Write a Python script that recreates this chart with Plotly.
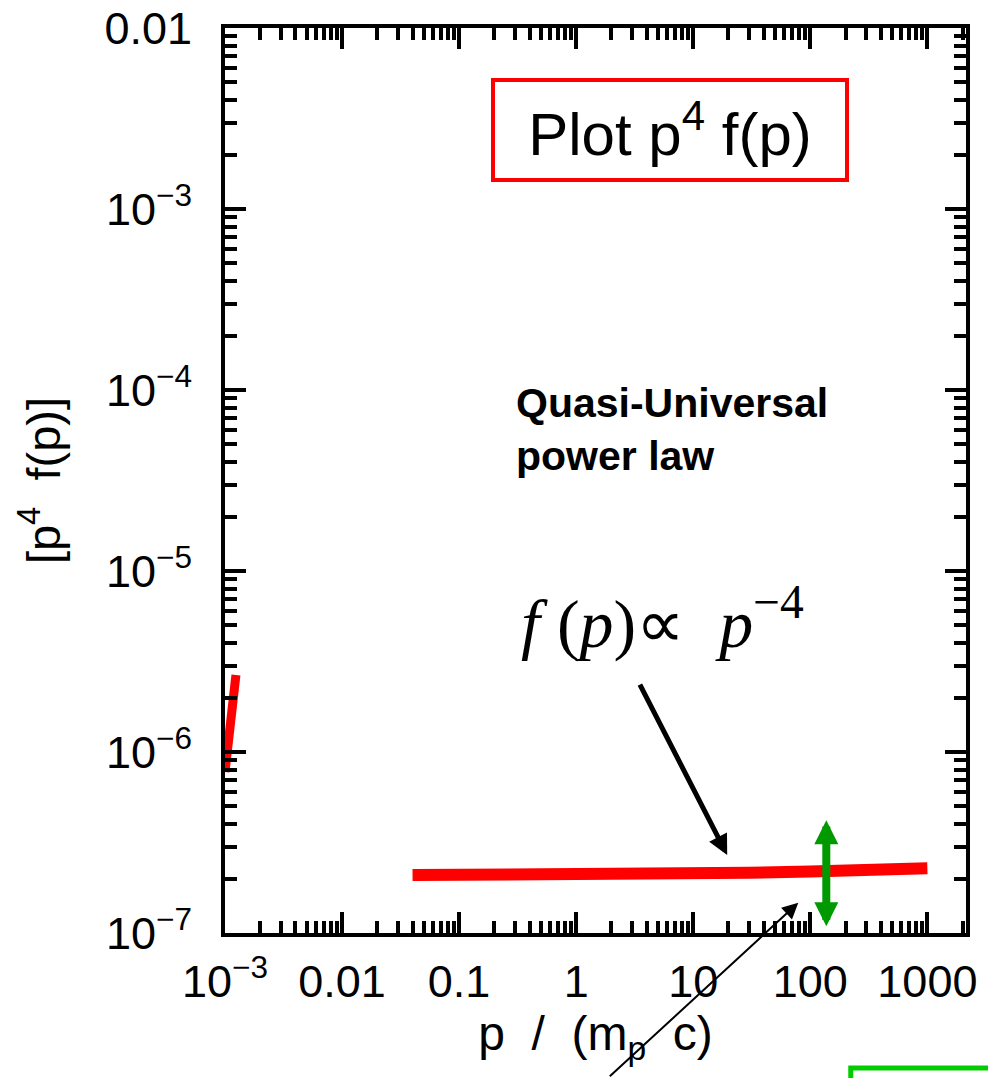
import numpy as np
import plotly.graph_objects as go

# Momentum grid (p / m_p c) and compensated spectrum p^4 f(p)
p_main = [0.04, 0.1, 0.3, 1, 3, 10, 30, 100, 300, 1000]
spec_main = [2.09e-7, 2.09e-7, 2.09e-7, 2.09e-7, 2.10e-7, 2.12e-7, 2.15e-7, 2.19e-7, 2.23e-7, 2.28e-7]

# Steep low-momentum branch at the left edge
p_low = [1.0e-3, 1.17e-3, 1.24e-3]
spec_low = [7.76e-7, 1.94e-6, 2.66e-6]

# Cut-off marker (double arrow) and pointer locations
cut_p = 137
cut_lo, cut_hi = 1.07e-7, 4.2e-7
law_tail = (3.45, 2.40e-6)     # (p, p^4 f) where the label pointer starts
law_head = (19.5, 2.70e-7)     # where it ends on the curve
thin_head = (79.0, 1.47e-7)

x_tickvals = [1e-3, 1e-2, 1e-1, 1, 10, 100, 1000]
x_ticktext = ["10<sup>\u22123</sup>", "0.01", "0.1", "1", "10", "100", "1000"]
y_tickvals = [1e-7, 1e-6, 1e-5, 1e-4, 1e-3, 1e-2]
y_ticktext = ["10<sup>\u22127</sup>", "10<sup>\u22126</sup>", "10<sup>\u22125</sup>",
              "10<sup>\u22124</sup>", "10<sup>\u22123</sup>", "0.01"]

FONT = "Liberation Sans, Arial, sans-serif"
RED = "#ff0000"
GREEN = "#009a00"

fig = go.Figure()
fig.add_trace(go.Scatter(x=p_main, y=spec_main, mode="lines",
                         line=dict(color=RED, width=12), showlegend=False,
                         hoverinfo="skip"))
fig.add_trace(go.Scatter(x=p_low, y=spec_low, mode="lines",
                         line=dict(color=RED, width=9), showlegend=False,
                         hoverinfo="skip"))

axis_common = dict(
    type="log",
    showline=True, linecolor="black", linewidth=4, mirror="allticks",
    ticks="inside", ticklen=21, tickwidth=4, tickcolor="black",
    showgrid=False, zeroline=False,
    tickfont=dict(family=FONT, size=45, color="black"),
    minor=dict(ticks="inside", ticklen=12, tickwidth=4, tickcolor="black",
               dtick="D1", showgrid=False),
)

fig.update_xaxes(**axis_common, range=[-3, 3.33],
                 tickvals=x_tickvals, ticktext=x_ticktext,
                 ticklabelstandoff=6,
                 title=dict(text="p  /  (m<sub>p</sub>  c)",
                            font=dict(family=FONT, size=48, color="black"),
                            standoff=8))
fig.update_yaxes(**axis_common, range=[-7, -2],
                 tickvals=y_tickvals, ticktext=y_ticktext,
                 ticklabelstandoff=20,
                 title=dict(text="[p<sup>4</sup>  f(p)]",
                            font=dict(family=FONT, size=47, color="black"),
                            standoff=30))

annotations = [
    # boxed plot label
    dict(xref="paper", yref="paper", x=0.6005, y=0.8873,
         text="Plot p<sup>4</sup> f(p)", showarrow=False,
         font=dict(family=FONT, size=60, color="black"),
         bordercolor=RED, borderwidth=4, borderpad=5,
         width=340, height=86, xanchor="center", yanchor="middle"),
    dict(xref="paper", yref="paper", x=0.3900, y=0.556,
         text="<b>Quasi-Universal<br>power law</b>", showarrow=False,
         align="left", xanchor="left", yanchor="middle",
         font=dict(family=FONT, size=41, color="black")),
    dict(xref="paper", yref="paper", x=0.5905, y=0.3475,
         text="<i>f</i> (<i>p</i>)\u221d  <i>p</i><sup>\u22124</sup>",
         showarrow=False, xanchor="center", yanchor="middle",
         font=dict(family="Liberation Serif, Times New Roman, serif",
                   size=68, color="black")),
    # pointer from the power-law label to the curve
    dict(xref="x", yref="y", axref="x", ayref="y",
         x=np.log10(law_head[0]), y=np.log10(law_head[1]),
         ax=np.log10(law_tail[0]), ay=np.log10(law_tail[1]),
         text="", showarrow=True, arrowhead=2, arrowsize=0.8,
         arrowwidth=5, arrowcolor="black"),
    # thin pointer coming from below the axis
    dict(xref="x", yref="y", axref="pixel", ayref="pixel",
         x=np.log10(thin_head[0]), y=np.log10(thin_head[1]),
         ax=-190, ay=175,
         text="", showarrow=True, arrowhead=2, arrowsize=1.6,
         arrowwidth=2, arrowcolor="black"),
    # cut-off double arrow
    dict(xref="x", yref="y", axref="x", ayref="y",
         x=np.log10(cut_p), y=np.log10(cut_hi),
         ax=np.log10(cut_p), ay=np.log10(cut_lo),
         text="", showarrow=True, arrowside="end+start",
         arrowhead=2, startarrowhead=2, arrowsize=0.6, startarrowsize=0.6,
         arrowwidth=8, arrowcolor=GREEN),
]

fig.update_layout(
    width=988, height=1078,
    margin=dict(l=225, r=22, t=28, b=145, autoexpand=False),
    paper_bgcolor="white", plot_bgcolor="white",
    annotations=annotations,
    shapes=[dict(type="path", xref="paper", yref="paper",
                 path="M 0.8445,-0.17 L 0.8445,-0.1492 L 1.05,-0.1492",
                 line=dict(color="#00cc00", width=5))],
    showlegend=False,
)

fig.write_html("out.html")
